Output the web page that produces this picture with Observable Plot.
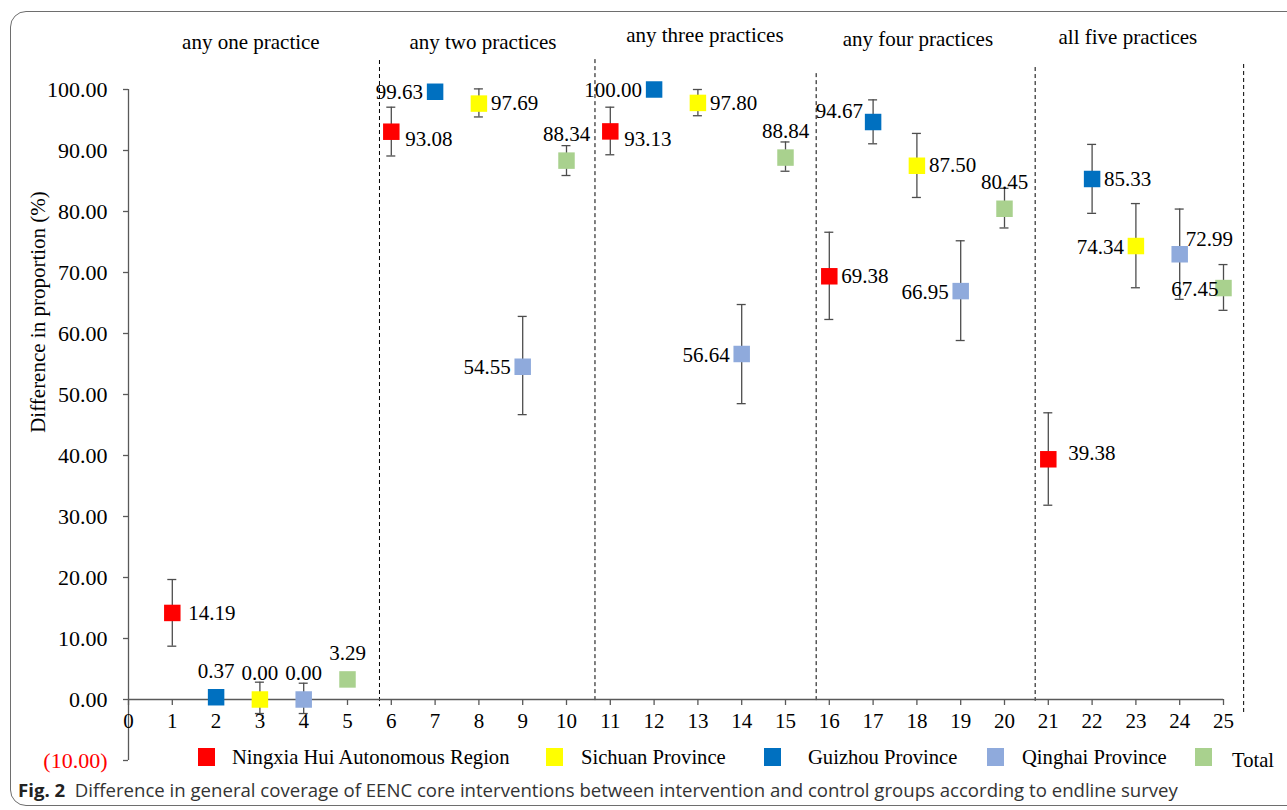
<!DOCTYPE html>
<html><head><meta charset="utf-8">
<script src="https://cdn.jsdelivr.net/npm/d3@7"></script>
<script src="https://cdn.jsdelivr.net/npm/@observablehq/plot@0.6"></script>
<style>
body{margin:0;background:#fff;width:1287px;height:810px;overflow:hidden;position:relative;font-family:"Liberation Serif",serif;}
#chart{position:absolute;left:0;top:0;}
#frame{position:absolute;left:10px;top:11px;width:1300px;height:795px;border:1.5px solid #6e6e6e;border-radius:16px;box-sizing:border-box;pointer-events:none;}
.lg{position:absolute;font-size:20.6px;color:#000;line-height:21px;white-space:nowrap;font-family:"Liberation Serif",serif;}
.sw{position:absolute;width:17px;height:18px;}
#cap{position:absolute;left:18px;top:779px;font-family:"Open Sans",sans-serif;font-size:18.6px;color:#333;white-space:nowrap;line-height:22px;}
#cap b{color:#222;}
</style></head><body>
<div id="chart"></div>
<div id="legend"></div>
<div id="cap"><b>Fig. 2</b>&nbsp; Difference in general coverage of EENC core interventions between intervention and control groups according to endline survey</div>
<div id="frame"></div>
<script>
// ---- data ----
const groupLabels = ["any one practice", "any two practices", "any three practices", "any four practices", "all five practices"];
// order of regions within each group on the x axis
const regions = ["Ningxia Hui Autonomous Region", "Guizhou Province", "Sichuan Province", "Qinghai Province", "Total"];
const regionColors = ["#FF0000", "#0070C0", "#FFFF00", "#8FAADC", "#A9D18E"];
const legendOrder = ["Ningxia Hui Autonomous Region", "Sichuan Province", "Guizhou Province", "Qinghai Province", "Total"];

const ningxiaValues = [14.19, 93.08, 93.13, 69.38, 39.38];
const guizhouValues = [0.37, 99.63, 100.00, 94.67, 85.33];
const sichuanValues = [0.00, 97.69, 97.80, 87.50, 74.34];
const qinghaiValues = [0.00, 54.55, 56.64, 66.95, 72.99];
const totalValues   = [3.29, 88.34, 88.84, 80.45, 67.45];

const ningxiaLower = [8.74, 89.1, 89.3, 62.3, 31.85];
const ningxiaUpper = [19.67, 97.1, 97.1, 76.6, 47.0];
const guizhouLower = [null, null, null, 91.1, 79.7];
const guizhouUpper = [null, null, null, 98.3, 91.0];
const sichuanLower = [-2.3, 95.5, 95.7, 82.3, 67.5];
const sichuanUpper = [2.84, 100.1, 100.0, 92.8, 81.3];
const qinghaiLower = [-2.3, 46.7, 48.5, 58.85, 65.6];
const qinghaiUpper = [2.67, 62.8, 64.75, 75.2, 80.4];
const totalLower   = [2.3, 85.9, 86.6, 77.3, 63.8];
const totalUpper   = [4.3, 90.8, 91.4, 83.8, 71.3];

const xTicks = d3.range(0, 26);
const yTicks = d3.range(-10, 101, 10);

// dashed group separators (x position, top, bottom in data units)
const dividerX      = [5.73, 10.65, 15.7, 20.7, 25.46];
const dividerTop    = [104.75, 104.9, 102.6, 103.6, 104.1];
const dividerBottom = [-1.2, -0.6, -0.2, -0.3, -2.6];

// ---- layout (label placement per point) ----
const labelSide = [
  ["Rw", "RB", "RB", "R", "Rh"],   // Ningxia
  ["A", "L", "L", "LA", "R"],      // Guizhou
  ["A", "R", "R", "R", "L"],       // Sichuan
  ["A", "L", "L", "L", "RA"],      // Qinghai
  ["A", "A", "A", "A", "LN"]       // Total
];
const sideStyle = {
  R:  {dx: 12, dy: 0, textAnchor: "start"},
  Rw: {dx: 16, dy: 0, textAnchor: "start"},
  Rh: {dx: 20, dy: -6, textAnchor: "start"},
  RB: {dx: 14, dy: 8, textAnchor: "start"},
  RA: {dx: 6, dy: -15, textAnchor: "start"},
  L:  {dx: -12, dy: 1, textAnchor: "end"},
  LA: {dx: -10, dy: -11, textAnchor: "end"},
  LN: {dx: -5, dy: 1, textAnchor: "end"},
  A:  {dx: 0, dy: -26, textAnchor: "middle"}
};
const headerDx = [-9, 4, 7, 1, -8];
const headerDy = [-47, -47, -54, -50, -52];

// ---- build ----
const seriesValues = [ningxiaValues, guizhouValues, sichuanValues, qinghaiValues, totalValues];
const seriesLower = [ningxiaLower, guizhouLower, sichuanLower, qinghaiLower, totalLower];
const seriesUpper = [ningxiaUpper, guizhouUpper, sichuanUpper, qinghaiUpper, totalUpper];

const points = groupLabels.flatMap((g, gi) => regions.map((r, ri) => ({
  x: gi * 5 + ri + 1,
  group: g,
  region: r,
  value: seriesValues[ri][gi],
  lo: seriesLower[ri][gi],
  hi: seriesUpper[ri][gi],
  side: labelSide[ri][gi]
})));
const errPoints = points.filter(p => p.lo != null);
const dividers = dividerX.map((x, i) => ({x, top: dividerTop[i], bottom: dividerBottom[i]}));

const axisColor = "#595959";
const errColor = "#4d4d4d";
const serif = "Liberation Serif";

const labelMarks = Object.entries(sideStyle).map(([code, st]) =>
  Plot.text(points.filter(p => p.side === code), {
    x: "x", y: "value", text: d => d.value.toFixed(2),
    dx: st.dx, dy: st.dy, textAnchor: st.textAnchor, fill: "#000", fontFamily: serif, fontSize: 21
  })
);

const headerMarks = groupLabels.map((g, i) =>
  Plot.text([g], {x: i * 5 + 3, frameAnchor: "top", lineAnchor: "middle", textAnchor: "middle",
    dx: headerDx[i], dy: headerDy[i], text: d => d, fill: "#000", fontFamily: serif, fontSize: 21})
);

const chart = Plot.plot({
  width: 1287, height: 810,
  marginLeft: 128, marginRight: 64, marginTop: 89, marginBottom: 50,
  x: {domain: [0, 25], axis: null},
  y: {domain: [-10, 100], axis: null},
  color: {domain: regions, range: regionColors},
  style: {fontFamily: serif, fontSize: "21px", background: "transparent", color: "#000", overflow: "visible"},
  marks: [
    Plot.ruleX(dividers, {x: "x", y1: "top", y2: "bottom", stroke: "#000", strokeWidth: 1, strokeDasharray: "4,3"}),
    // y axis
    Plot.ruleX([0], {y1: -10, y2: 100, stroke: axisColor, strokeWidth: 1.3}),
    Plot.ruleY(yTicks, {y: d => d, x1: 0, x2: 0, insetLeft: -5, stroke: axisColor, strokeWidth: 1.3}),
    Plot.text(yTicks.filter(d => d >= 0), {x: 0, y: d => d, text: d => d.toFixed(2), textAnchor: "end", dx: -21, fill: "#000", fontFamily: serif, fontSize: 22}),
    Plot.text(yTicks.filter(d => d < 0), {x: 0, y: d => d, text: d => `(${Math.abs(d).toFixed(2)})`, textAnchor: "end", dx: -21, fill: "#FF0000", fontFamily: serif, fontSize: 22}),
    // x axis at zero
    Plot.ruleY([0], {x1: 0, x2: 25, stroke: axisColor, strokeWidth: 1.3}),
    Plot.ruleX(xTicks, {x: d => d, y1: 0, y2: 0, insetBottom: -6, stroke: axisColor, strokeWidth: 1.3}),
    Plot.text(xTicks, {x: d => d, y: 0, dy: 22, text: d => String(d), fill: "#000", fontFamily: serif, fontSize: 21}),
    // error bars
    Plot.ruleX(errPoints, {x: "x", y1: "lo", y2: "hi", stroke: errColor, strokeWidth: 1.3}),
    Plot.ruleY(errPoints, {y: "hi", x1: "x", x2: "x", insetLeft: -4.5, insetRight: -4.5, stroke: errColor, strokeWidth: 1.3}),
    Plot.ruleY(errPoints, {y: "lo", x1: "x", x2: "x", insetLeft: -4.5, insetRight: -4.5, stroke: errColor, strokeWidth: 1.3}),
    // markers
    Plot.dot(points, {x: "x", y: "value", symbol: "square", r: 9.3, fill: "region", stroke: null}),
    ...labelMarks,
    ...headerMarks,
    Plot.text(["Difference in proportion (%)"], {frameAnchor: "left", textAnchor: "middle", lineAnchor: "middle", rotate: -90,
      dx: -90, dy: -113, text: d => d, fill: "#000", fontFamily: serif, fontSize: 21})
  ]
});
document.getElementById("chart").appendChild(chart);

// legend
const legendSwatchX = [198, 546, 764, 987, 1195];
const legendTextX = [232, 581, 808, 1022, 1232];
const legendTextY = [747, 747, 747, 747, 750];
const legend = document.getElementById("legend");
const colorOf = Object.fromEntries(regions.map((r, i) => [r, regionColors[i]]));
legendOrder.forEach((r, i) => {
  const sw = document.createElement("div");
  sw.className = "sw";
  sw.style.left = legendSwatchX[i] + "px";
  sw.style.top = "748px";
  sw.style.background = colorOf[r];
  legend.appendChild(sw);
  const t = document.createElement("div");
  t.className = "lg";
  t.style.left = legendTextX[i] + "px";
  t.style.top = legendTextY[i] + "px";
  t.textContent = r;
  legend.appendChild(t);
});
</script>
</body></html>
